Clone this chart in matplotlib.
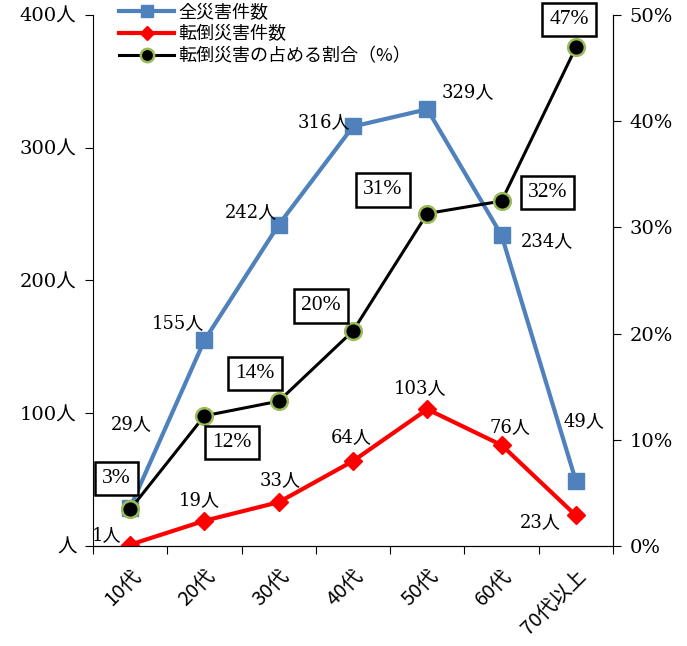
import matplotlib
matplotlib.use("Agg")
from matplotlib import pyplot as plt
from matplotlib.ticker import FuncFormatter

# 年代別の災害件数
ages = ['10代', '20代', '30代', '40代', '50代', '60代', '70代以上']
total = [29, 155, 242, 316, 329, 234, 49]
falls = [1, 19, 33, 64, 103, 76, 23]

# ラベル位置 (点からのずらし, pt)
total_off = [(1, 60), (-19, 12), (-20, 9), (-21, 3), (29, 12), (33, -4), (6, 43)]
falls_off = [(-17, 7), (-4, 15), (1, 16), (-1, 17), (-5, 15), (6, 13), (-26, -5)]
ratio_off = [(-10, 22), (20, -19), (-17, 20), (-23, 18), (-32, 17), (33, 6), (-5, 20)]

serif = ['DejaVu Serif', 'Noto Sans CJK JP']
box_font = ['Liberation Serif', 'DejaVu Serif']
gothic = ['Noto Sans CJK JP', 'DejaVu Sans']

ratio = [f / t * 100 for f, t in zip(falls, total)]
x = list(range(len(ages)))

fig = plt.figure(figsize=(6.87, 6.46), dpi=100)
ax = fig.add_axes([0.1354, 0.1548, 0.7569, 0.822])
ax2 = ax.twinx()

l1, = ax.plot(x, total, color='#4F81BD', lw=3, marker='s', ms=11,
              label='全災害件数', zorder=3)
l2, = ax.plot(x, falls, color='#FF0000', lw=3, marker='D', ms=9,
              label='転倒災害件数', zorder=4)
l3, = ax2.plot(x, ratio, color='black', lw=2.2, marker='o', ms=12,
               mfc='black', mec='#9BBB59', mew=1.8, label='転倒災害の占める割合（%）')

for i in x:
    ax.annotate(f'{total[i]}人', (i, total[i]), xytext=total_off[i],
                textcoords='offset points', ha='center', va='center',
                family=serif, fontsize=13)
    ax.annotate(f'{falls[i]}人', (i, falls[i]), xytext=falls_off[i],
                textcoords='offset points', ha='center', va='center',
                family=serif, fontsize=13)
    ax2.annotate(f'{round(ratio[i])}%', (i, ratio[i]), xytext=ratio_off[i],
                 textcoords='offset points', ha='center', va='center',
                 family=box_font, fontsize=15.5,
                 bbox=dict(boxstyle='square,pad=0.33', fc='white',
                           ec='black', lw=1.8))

ax.set_xlim(-0.5, 6.5)
ax.set_ylim(0, 400)
ax2.set_ylim(0, 50)
ax.set_xticks([i - 0.5 for i in range(8)])
ax.set_xticklabels([])
ax.set_xticks(x, minor=True)
ax.set_xticklabels(ages, minor=True, rotation=45, ha='right',
                   rotation_mode='anchor', family=gothic, fontsize=14.5)
ax.tick_params(axis='x', which='minor', length=0, pad=14)
ax.tick_params(axis='x', which='major', direction='out', length=6)

ax.set_yticks([0, 100, 200, 300, 400])
ax.yaxis.set_major_formatter(FuncFormatter(
    lambda v, p: '人' if v == 0 else f'{int(v)}人'))
ax2.set_yticks([0, 10, 20, 30, 40, 50])
ax2.yaxis.set_major_formatter(FuncFormatter(lambda v, p: f'{int(v)}%'))
for lab in ax.get_yticklabels() + ax2.get_yticklabels():
    lab.set_family(serif)
    lab.set_fontsize(14)
ax.tick_params(axis='y', direction='out', length=6, pad=6)
ax2.tick_params(axis='y', direction='out', length=6, pad=6)

for a in (ax, ax2):
    a.spines['top'].set_visible(False)
    a.set_facecolor('none')
ax2.spines['left'].set_visible(False)

ax.legend(handles=[l1, l2, l3], loc='upper left', bbox_to_anchor=(0.037, 1.035),
          frameon=False, prop={'family': gothic, 'size': 13},
          handlelength=3.0, handletextpad=0.27, labelspacing=0.2,
          borderaxespad=0, markerscale=0.8)

fig.savefig('out.png', dpi=100)
